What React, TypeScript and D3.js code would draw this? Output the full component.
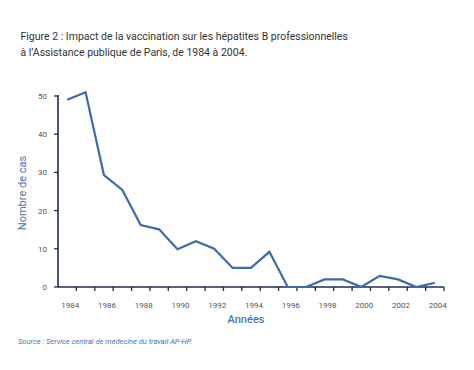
import React from "react";
import * as d3 from "d3";

const years: number[] = [1984,1985,1986,1987,1988,1989,1990,1991,1992,1993,1994,1995,1996,1997,1998,1999,2000,2001,2002,2003,2004];
const cases: number[] = [49,51,29.3,25.4,16.2,15.1,9.9,12,10,5,5,9.2,0,0,2,2,0,2.9,2,0,1.1];
const yTicks: number[] = [0,10,20,30,40,50];
const xLabels: number[] = [1984,1986,1988,1990,1992,1994,1996,1998,2000,2002,2004];

const W = 474, H = 370;
const left = 58, right = 444, top = 96, bottom = 287;

export default function App() {
  const x = d3.scaleBand<number>().domain(years).range([left, right]).padding(0);
  const y = d3.scaleLinear().domain([0, 50]).range([bottom, top]);
  const line = d3.line<number>()
    .x((_, i) => (x(years[i]) as number) + x.bandwidth() / 2)
    .y((d) => y(d));
  const axisColor = "#1f2b57";
  const blue = "#3f6aa8";
  const font = "Roboto, 'Noto Sans', sans-serif";
  return (
    <svg width={W} height={H} style={{ position: "absolute", left: 0, top: 0, background: "#fff" }} fontFamily={font}>
      <rect width={W} height={H} fill="#fff" />
      <text x={20.5} y={40} fontSize={10.5} fill="#333">Figure 2 : Impact de la vaccination sur les hépatites B professionnelles</text>
      <text x={20.5} y={56} fontSize={10.5} fill="#333">à l’Assistance publique de Paris, de 1984 à 2004.</text>

      {/* y axis */}
      <line x1={left} x2={left} y1={top - 1} y2={bottom} stroke={axisColor} strokeWidth={1.6} />
      {yTicks.map((t) => (
        <g key={t}>
          <line x1={left - 4} x2={left} y1={y(t)} y2={y(t)} stroke={axisColor} strokeWidth={1.3} />
          <text x={47} y={y(t) + 3} fontSize={8} textAnchor="end" fill="#555">{t}</text>
        </g>
      ))}
      <text transform={`translate(26,193) rotate(-90)`} fontSize={11} textAnchor="middle" fill="#4a78b0">Nombre de cas</text>

      {/* x axis */}
      <line x1={left} x2={right} y1={bottom} y2={bottom} stroke={axisColor} strokeWidth={1.6} />
      {years.map((yr) => (
        <line key={yr} x1={(x(yr) as number) + x.bandwidth()} x2={(x(yr) as number) + x.bandwidth()} y1={bottom} y2={bottom + 4} stroke={axisColor} strokeWidth={1.3} />
      ))}
      {xLabels.map((yr) => (
        <text key={yr} x={(x(yr) as number) + x.bandwidth() / 2 + 3} y={308} fontSize={8} textAnchor="middle" fill="#555">{yr}</text>
      ))}
      <text x={246} y={323} fontSize={11} fontWeight={500} textAnchor="middle" fill="#4a78b0">Années</text>

      <path d={line(cases) as string} fill="none" stroke={blue} strokeWidth={2.2} strokeLinejoin="miter" />

      <text x={18} y={344} fontSize={7.5} fontStyle="italic" fill="#4a78b0">Source : Service central de médecine du travail AP-HP.</text>
    </svg>
  );
}
